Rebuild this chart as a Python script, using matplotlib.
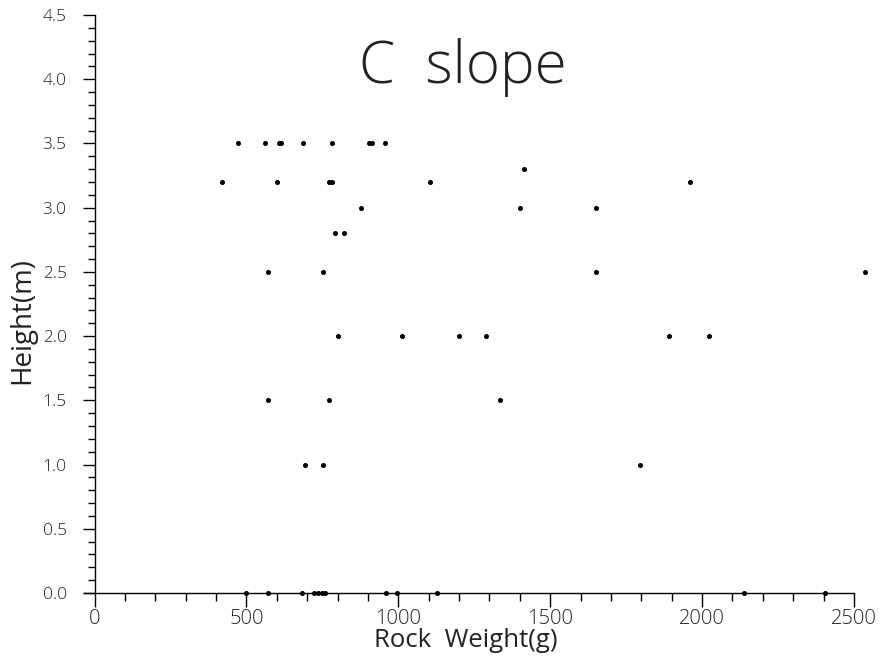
import matplotlib
matplotlib.use("Agg")
import matplotlib.pyplot as plt
from matplotlib.ticker import MultipleLocator

# rock weight (g) and height (m), one list per height row
w_35 = [471, 561, 606, 613, 685, 782, 905, 915, 955]
w_33 = [1415]
w_32 = [421, 602, 773, 783, 1103, 1961]
w_30 = [876, 1401, 1650]
w_28 = [792, 821]
w_25 = [572, 751, 1650, 2536]
w_20 = [803, 1011, 1199, 1289, 1890, 2023]
w_15 = [572, 771, 1335]
w_10 = [694, 753, 1796]
w_00 = [499, 572, 682, 722, 735, 748, 758, 960, 995, 1126, 2139, 2406]

rows = [(3.5, w_35), (3.3, w_33), (3.2, w_32), (3.0, w_30), (2.8, w_28),
        (2.5, w_25), (2.0, w_20), (1.5, w_15), (1.0, w_10), (0.0, w_00)]

weights = []
heights = []
for h, ws in rows:
    weights += ws
    heights += [h] * len(ws)

plt.rcParams["font.family"] = ["Open Sans", "DejaVu Sans"]
plt.rcParams["font.weight"] = "light"

fig = plt.figure(figsize=(8.82, 6.58), dpi=100)
ax = fig.add_axes([0.0951, 0.0988, 0.8731, 0.8784])

ax.plot(weights, heights, "o", color="black", markersize=2.6, clip_on=False)

ax.set_xlim(-35, 2500)
ax.set_ylim(0, 4.5)
ax.spines["top"].set_visible(False)
ax.spines["right"].set_visible(False)
ax.spines["left"].set_position(("data", 0))
ax.spines["left"].set_linewidth(1.0)
ax.spines["bottom"].set_linewidth(1.0)

ax.xaxis.set_major_locator(MultipleLocator(500))
ax.xaxis.set_minor_locator(MultipleLocator(100))
ax.yaxis.set_major_locator(MultipleLocator(0.5))
ax.yaxis.set_minor_locator(MultipleLocator(0.1))
ax.yaxis.set_major_formatter(plt.FuncFormatter(lambda v, p: "%.1f" % v))

ax.tick_params(axis="y", which="major", direction="out", length=9, width=1, pad=11,
               labelsize=12.5, labelcolor="#222222")
ax.tick_params(axis="y", which="minor", direction="out", length=5, width=1)
ax.tick_params(axis="x", which="major", direction="out", length=10, width=1, pad=1.5,
               labelsize=14.5, labelcolor="#222222")
ax.tick_params(axis="x", which="minor", direction="out", length=6, width=1)

ax.set_xlabel("Rock  Weight(g)", fontsize=18.5, color="#222222", va="baseline")
ax.xaxis.set_label_coords(0.496, -0.094)
ax.set_ylabel("Height(m)", fontsize=20, color="#222222")
ax.yaxis.set_label_coords(-0.062, 0.472)

ax.text(0.492, 0.91, "C  slope", transform=ax.transAxes, fontsize=42,
        fontweight="light", color="#222222", ha="center", va="center")

fig.savefig("out.png", dpi=100)
